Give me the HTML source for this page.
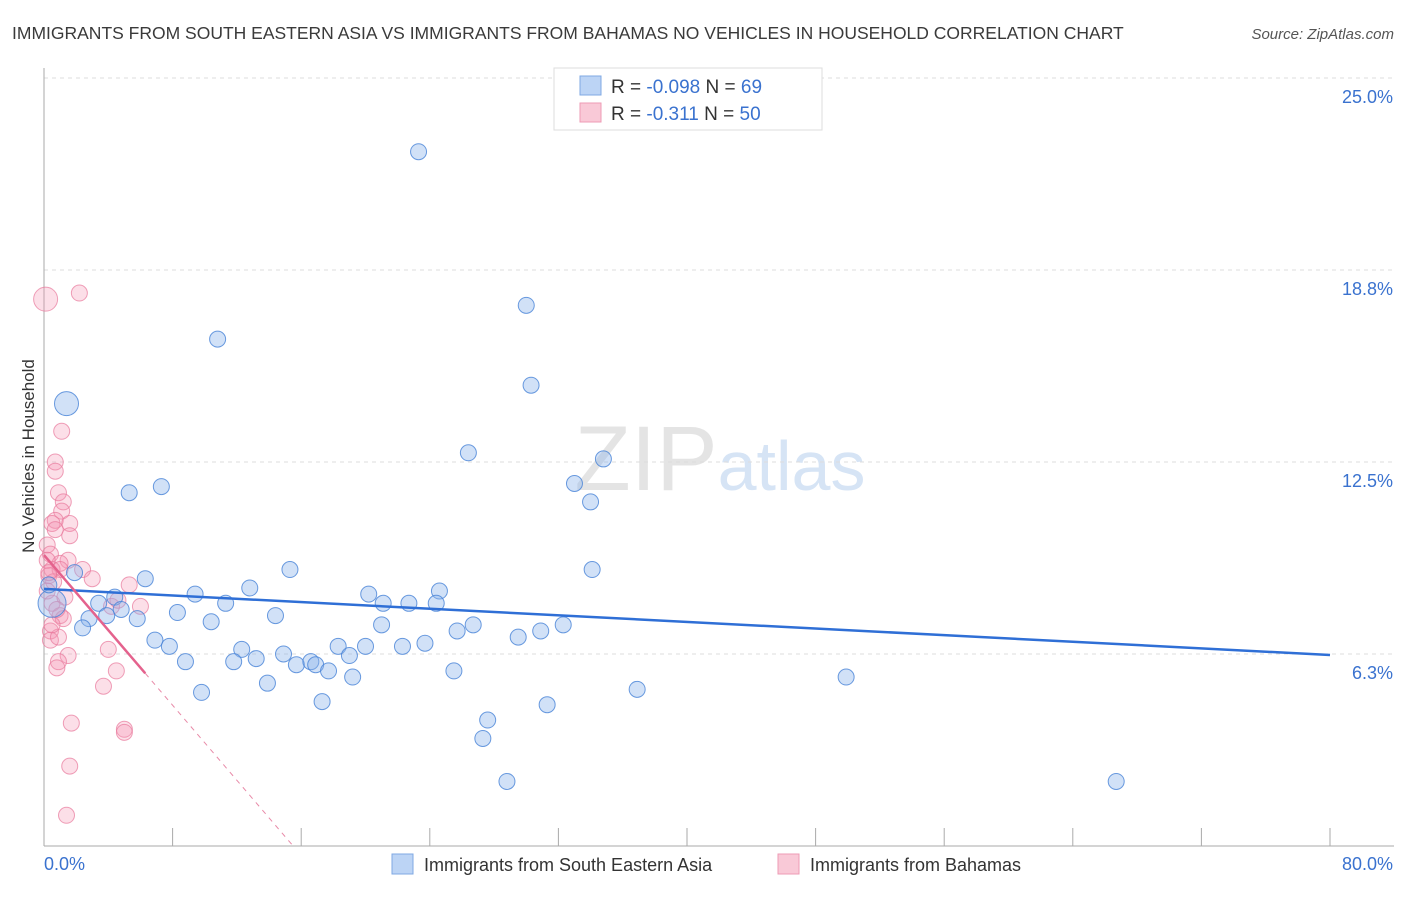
<!DOCTYPE html>
<html><head><meta charset="utf-8"><style>
body{margin:0;background:#fff;font-family:"Liberation Sans",sans-serif;}
svg text{font-family:"Liberation Sans",sans-serif;}
</style></head><body>
<svg id="chart" width="1406" height="892" viewBox="0 0 1406 892" xmlns="http://www.w3.org/2000/svg">
<text x="12" y="39" font-size="17.5" fill="#3a3a3a">IMMIGRANTS FROM SOUTH EASTERN ASIA VS IMMIGRANTS FROM BAHAMAS NO VEHICLES IN HOUSEHOLD CORRELATION CHART</text>
<text x="1394" y="39" font-size="15" fill="#555" text-anchor="end" font-style="italic">Source: ZipAtlas.com</text>
<text x="720" y="490" font-size="92" text-anchor="middle" fill="#e4e4e4" font-family="Liberation Serif">ZIP<tspan fill="#d6e4f5" font-family="Liberation Sans" font-size="70">atlas</tspan></text>
<g id="grid"></g><g id="axes"></g><g id="marks"></g>
<text transform="translate(34,456) rotate(-90)" font-size="17" fill="#333" text-anchor="middle">No Vehicles in Household</text>
<g>
<rect x="554" y="68" width="268" height="62" fill="#fff" stroke="#ddd"/>
<rect x="580" y="76" width="21" height="19" fill="#bcd4f5" stroke="#7fa8e3"/>
<rect x="580" y="103" width="21" height="19" fill="#f9c9d7" stroke="#ee9bb4"/>
<text x="611" y="93" font-size="19" fill="#333">R = <tspan fill="#3a72cf">-0.098</tspan>   N = <tspan fill="#3a72cf">69</tspan></text>
<text x="611" y="120" font-size="19" fill="#333">R =   <tspan fill="#3a72cf">-0.311</tspan>   N = <tspan fill="#3a72cf">50</tspan></text>
</g>
<g>
<rect x="392" y="854" width="21" height="20" fill="#bcd4f5" stroke="#7fa8e3"/>
<text x="424" y="871" font-size="18" fill="#333">Immigrants from South Eastern Asia</text>
<rect x="778" y="854" width="21" height="20" fill="#f9c9d7" stroke="#ee9bb4"/>
<text x="810" y="871" font-size="18" fill="#333">Immigrants from Bahamas</text>
</g>
</svg>
<script>
const yTicks=[25.0,18.75,12.5,6.25];
const yTickLabels=["25.0%","18.8%","12.5%","6.3%"];
const xTickCount=10;
const xLabels=["0.0%","80.0%"];
const blueX=[23.3,30.0,10.8,30.3,1.4,26.4,34.8,5.3,7.3,33.0,34.0,15.3,34.1,6.3,1.9,12.8,9.4,20.2,24.6,4.4,3.4,11.3,21.1,22.7,24.4,0.5,4.8,8.3,14.4,2.8,3.9,5.8,10.4,21.0,26.7,32.3,25.7,30.9,2.4,6.9,7.8,18.3,20.0,22.3,23.7,12.3,29.5,14.9,19.0,13.2,8.8,11.8,15.7,16.6,16.9,17.7,25.5,13.9,19.2,36.9,49.9,9.8,17.3,31.3,27.6,27.3,28.8,66.7,0.3];
const blueY=[22.6,17.6,16.5,15.0,14.4,12.8,12.6,11.5,11.7,11.8,11.2,9.0,9.0,8.7,8.9,8.4,8.2,8.2,8.3,8.1,7.9,7.9,7.9,7.9,7.9,7.9,7.7,7.6,7.5,7.4,7.5,7.4,7.3,7.2,7.2,7.2,7.0,7.0,7.1,6.7,6.5,6.5,6.5,6.5,6.6,6.4,6.8,6.25,6.2,6.1,6.0,6.0,5.9,6.0,5.9,5.7,5.7,5.3,5.5,5.1,5.5,5.0,4.7,4.6,4.1,3.5,2.1,2.1,8.5];
const blueR=[8,8,8,8,12,8,8,8,8,8,8,8,8,8,8,8,8,8,8,8,8,8,8,8,8,14,8,8,8,8,8,8,8,8,8,8,8,8,8,8,8,8,8,8,8,8,8,8,8,8,8,8,8,8,8,8,8,8,8,8,8,8,8,8,8,8,8,8,8];
const pinkX=[0.1,2.2,1.1,0.7,0.7,0.9,1.2,1.1,0.7,1.6,0.5,0.7,1.6,0.2,0.4,1.5,1.0,2.4,0.5,1.0,3.0,5.3,6.0,4.2,0.5,1.0,1.2,0.4,0.4,0.9,1.5,0.9,0.8,4.0,4.5,3.7,1.7,5.0,5.0,1.6,1.4,0.3,0.6,0.2,1.3,0.5,0.3,4.6,0.8,0.2];
const pinkY=[17.8,18.0,13.5,12.5,12.2,11.5,11.2,10.9,10.6,10.5,10.5,10.3,10.1,9.8,9.5,9.3,9.2,9.0,9.0,9.0,8.7,8.5,7.8,7.8,7.9,7.5,7.4,7.0,6.7,6.8,6.2,6.0,5.8,6.4,5.7,5.2,4.0,3.8,3.7,2.6,1.0,8.8,8.6,9.3,8.1,7.2,8.9,8.0,7.7,8.3];
const pinkR=[12,8,8,8,8,8,8,8,8,8,8,8,8,8,8,8,8,8,8,8,8,8,8,8,8,8,8,8,8,8,8,8,8,8,8,8,8,8,8,8,8,8,8,8,8,8,8,8,8,8];
const blueFit=[8.37,-0.0269];
const pinkFit=[9.47,-0.611];
const pinkSolidEnd=[6.3];
const NS="http://www.w3.org/2000/svg";
const X0=44,X1=1330,Y0=846;
function sx(v){return X0+(v/80)*(X1-X0);}
function sy(v){return Y0-(v/6.25)*192;}
function mk(tag,attrs,parent){const e=document.createElementNS(NS,tag);for(const k in attrs)e.setAttribute(k,attrs[k]);parent.appendChild(e);return e;}
const grid=document.getElementById('grid'),axes=document.getElementById('axes'),marks=document.getElementById('marks');
yTicks.forEach((t,i)=>{
 const l=mk('line',{x1:X0,x2:1394,y1:sy(t),y2:sy(t),stroke:'#ddd','stroke-dasharray':'4,4'},grid);
 
 
 const tx=mk('text',{x:1393,y:sy(t)+25,'font-size':18,fill:'#3a72cf','text-anchor':'end'},grid);
 tx.textContent=yTickLabels[i];
 
 
});
const ax=mk('line',{x1:X0,x2:X0,y1:68,y2:Y0,stroke:'#aaa'},axes);


const bx=mk('line',{x1:X0,x2:1394,y1:Y0,y2:Y0,stroke:'#aaa'},axes);


for(let i=0;i<=xTickCount;i++){
 const t=mk('line',{x1:sx(i*8),x2:sx(i*8),y1:828,y2:Y0,stroke:'#aaa'},axes);
 
 
}
const xl0=mk('text',{x:44,y:870,'font-size':18,fill:'#3a72cf'},axes);xl0.textContent=xLabels[0];


const xl1=mk('text',{x:1393,y:870,'font-size':18,fill:'#3a72cf','text-anchor':'end'},axes);xl1.textContent=xLabels[1];


pinkX.forEach((v,i)=>{
 const c=mk('circle',{cx:sx(v),cy:sy(pinkY[i]),r:pinkR[i],fill:'rgba(244,150,180,0.3)',stroke:'rgba(232,120,155,0.7)','stroke-width':1},marks);
 
 
});
blueX.forEach((v,i)=>{
 const c=mk('circle',{cx:sx(v),cy:sy(blueY[i]),r:blueR[i],fill:'rgba(140,180,235,0.4)',stroke:'rgba(70,130,215,0.8)','stroke-width':1},marks);
 
 
});
const bl=mk('line',{x1:sx(0),y1:sy(blueFit[0]),x2:sx(80),y2:sy(blueFit[0]+blueFit[1]*80),stroke:'#2f6fd6','stroke-width':2.5},marks);


const xe=pinkSolidEnd[0];
const pl=mk('line',{x1:sx(0),y1:sy(pinkFit[0]),x2:sx(xe),y2:sy(pinkFit[0]+pinkFit[1]*xe),stroke:'#e4628d','stroke-width':2.5},marks);


const xz=-pinkFit[0]/pinkFit[1];
const pd=mk('line',{x1:sx(xe),y1:sy(pinkFit[0]+pinkFit[1]*xe),x2:sx(xz),y2:sy(0),stroke:'#e88aa8','stroke-width':1,'stroke-dasharray':'5,5'},marks);


</script>
</body></html>
